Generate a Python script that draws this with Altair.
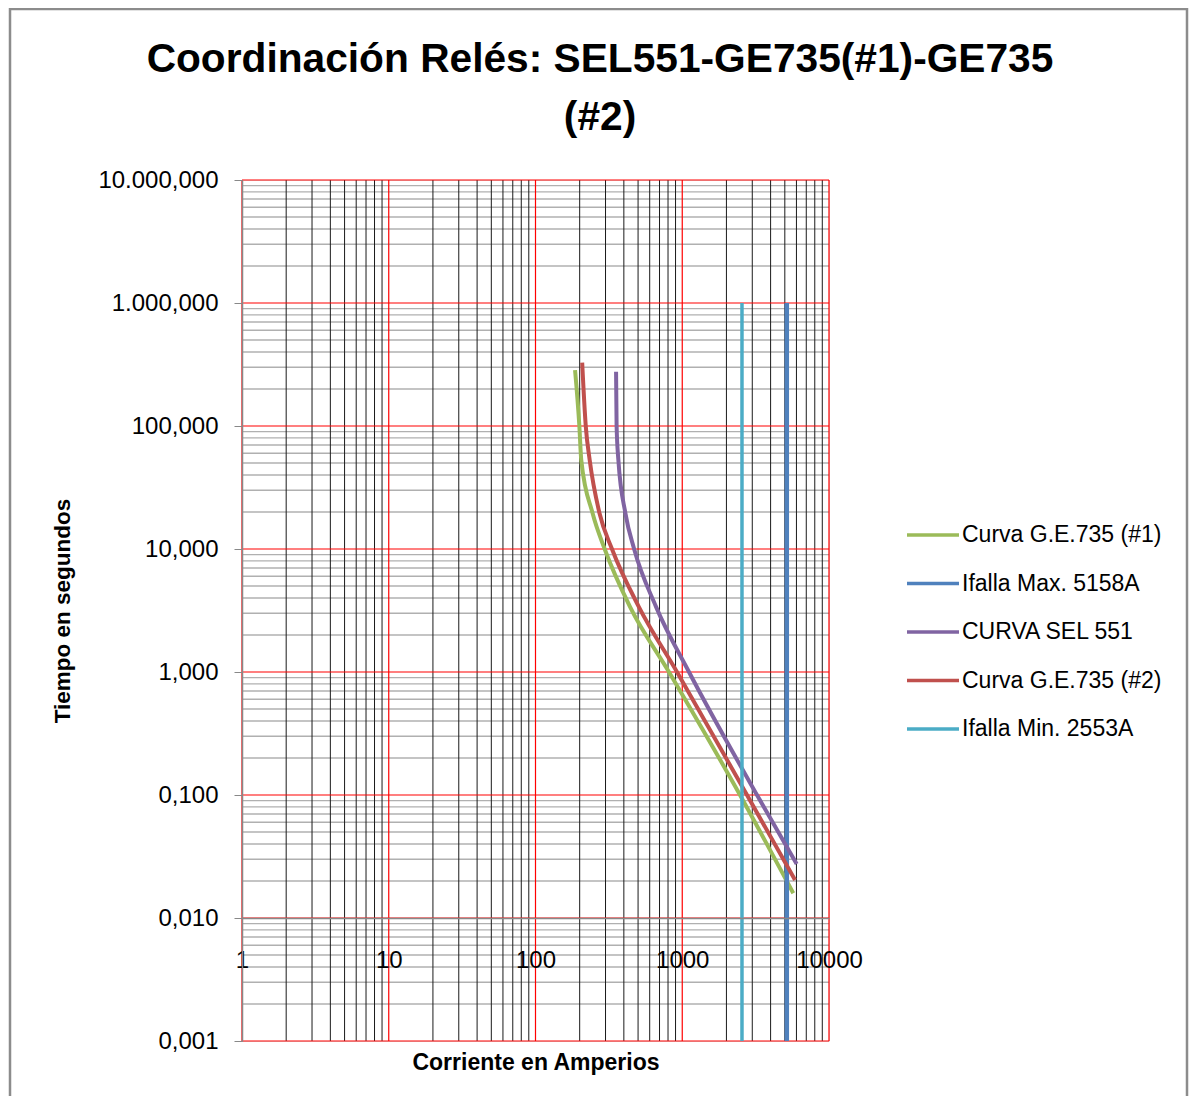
import altair as alt
import pandas as pd

# ---------------- data ----------------
title_lines = ["Coordinación Relés: SEL551-GE735(#1)-GE735", "(#2)"]

series_names = ["Curva G.E.735 (#1)", "Ifalla Max. 5158A", "CURVA SEL 551",
                "Curva G.E.735 (#2)", "Ifalla Min. 2553A"]
series_colors = ["#9BBB59", "#4F81BD", "#8064A2", "#C0504D", "#4BACC6"]
series_widths = [4, 4.5, 4, 4, 3.5]

green_I = [186, 199, 205, 245, 296, 440, 812, 2475, 5710]
green_t = [285, 100, 53, 19.5, 10, 3.4, 1.0, 0.1, 0.0159]

ifmax_I = [5158, 5158]
ifmax_t = [0.001, 1000]

purple_I = [354, 357, 367, 410, 470, 662, 1112, 3232, 6026]
purple_t = [276, 100, 53, 19.5, 10, 3.4, 1.0, 0.1, 0.0275]

red_I = [208, 220, 234, 273, 332, 505, 921, 2762, 5866]
red_t = [327, 100, 53, 19.5, 10, 3.4, 1.0, 0.1, 0.0204]

ifmin_I = [2553, 2553]
ifmin_t = [0.001, 1000]

x_tick_values = [1, 10, 100, 1000, 10000]
y_tick_values = [0.001, 0.01, 0.1, 1, 10, 100, 1000, 10000]
y_tick_labels = ["0,001", "0,010", "0,100", "1,000", "10,000", "100,000",
                 "1.000,000", "10.000,000"]

x_minor = [k * 10 ** d for d in range(0, 4) for k in range(2, 10)]
y_minor = [k * 10.0 ** d for d in range(-3, 4) for k in range(2, 10)]

# ---------------- table ----------------
all_I = [green_I, ifmax_I, purple_I, red_I, ifmin_I]
all_t = [green_t, ifmax_t, purple_t, red_t, ifmin_t]
rows = []
for name, w, Is, ts in zip(series_names, series_widths, all_I, all_t):
    for i, (a, b) in enumerate(zip(Is, ts)):
        rows.append({"serie": name, "I": a, "t": b, "idx": i, "w": w})
df = pd.DataFrame(rows)

FONT = "Liberation Sans"
W, H = 587, 861
xs = alt.Scale(type="log", domain=[1, 10000], nice=False)
ys = alt.Scale(type="log", domain=[0.001, 10000], nice=False)

y_label_expr = "[" + ",".join("'%s'" % s for s in y_tick_labels) + "][round(log(datum.value)/LN10)+3]"

x_axis = alt.Axis(
    values=x_tick_values, labelExpr="format(datum.value, '.0f')",
    offset=-123, domainColor="#888888", domainWidth=1.5, ticks=False,
    labelPadding=42, labelBaseline="middle", labelFontSize=24, labelFont=FONT,
    labelColor="black", labelFlush=False, labelOverlap=False, grid=False,
    title="Corriente en Amperios", titleFont=FONT, titleFontSize=23,
    titleFontWeight="bold", titleColor="black", titleY=144,
    titleBaseline="middle", zindex=1)
y_axis = alt.Axis(
    values=y_tick_values, labelExpr=y_label_expr,
    domainColor="#888888", domainWidth=1.5, tickColor="#888888", tickSize=8,
    labelPadding=16, labelFontSize=24, labelFont=FONT, labelColor="black",
    labelFlush=False, labelOverlap=False, grid=False,
    title="Tiempo en segundos", titleFont=FONT, titleFontSize=22.5,
    titleFontWeight="bold", titleColor="black", titleX=-180, titleY=H / 2,
    titleAngle=270, titleAlign="center", titleBaseline="middle", zindex=1)

h_minor = alt.Chart(pd.DataFrame({"v": y_minor})).mark_rule(
    color="#b0b0b0", strokeWidth=1.4).encode(y=alt.Y("v:Q", scale=ys, axis=y_axis))
v_minor = alt.Chart(pd.DataFrame({"v": x_minor})).mark_rule(
    color="#1a1a1a", strokeWidth=1).encode(x=alt.X("v:Q", scale=xs, axis=x_axis))
h_major = alt.Chart(pd.DataFrame({"v": y_tick_values})).mark_rule(
    color="#ff0000", strokeWidth=1.2).encode(y=alt.Y("v:Q", scale=ys, axis=y_axis))
v_major = alt.Chart(pd.DataFrame({"v": x_tick_values})).mark_rule(
    color="#ff0000", strokeWidth=1.2).encode(x=alt.X("v:Q", scale=xs, axis=x_axis))

lines = alt.Chart(df).mark_line(interpolate="monotone").encode(
    x=alt.X("I:Q", scale=xs, axis=x_axis),
    y=alt.Y("t:Q", scale=ys, axis=y_axis),
    color=alt.Color("serie:N", scale=alt.Scale(domain=series_names, range=series_colors),
                    sort=series_names,
                    legend=alt.Legend(orient="none", legendX=663, legendY=327, title=None,
                                      symbolType="stroke", symbolSize=2704,
                                      symbolStrokeWidth=3.5, labelFontSize=23,
                                      labelFont=FONT, labelColor="black", rowPadding=8.5,
                                      labelOffset=1, labelLimit=400)),
    detail="serie:N",
    order="idx:Q",
    strokeWidth=alt.StrokeWidth("w:Q", scale=None, legend=None),
)

title_df = pd.DataFrame({"txt": ["\n".join(title_lines)]})
title = alt.Chart(title_df).mark_text(
    font=FONT, fontSize=40.7, fontWeight="bold", align="center", baseline="middle",
    lineBreak="\n", lineHeight=58, color="black").encode(
    text="txt:N", x=alt.value(358), y=alt.value(-120))

border = alt.Chart(pd.DataFrame({"a": [0]})).mark_rect(
    fillOpacity=0, stroke="#8c8c8c", strokeWidth=2.5).encode(
    x=alt.value(-232), x2=alt.value(945), y=alt.value(-171), y2=alt.value(960))

chart = alt.layer(h_minor, v_minor, h_major, v_major, lines, title, border).properties(
    width=W, height=H,
    autosize=alt.AutoSizeParams(type="none"),
    padding={"left": 234, "top": 172, "right": 360, "bottom": 55},
).configure_view(stroke=None).configure(background="white")

chart.save("out.html", embed_options={"renderer": "svg", "actions": False})
